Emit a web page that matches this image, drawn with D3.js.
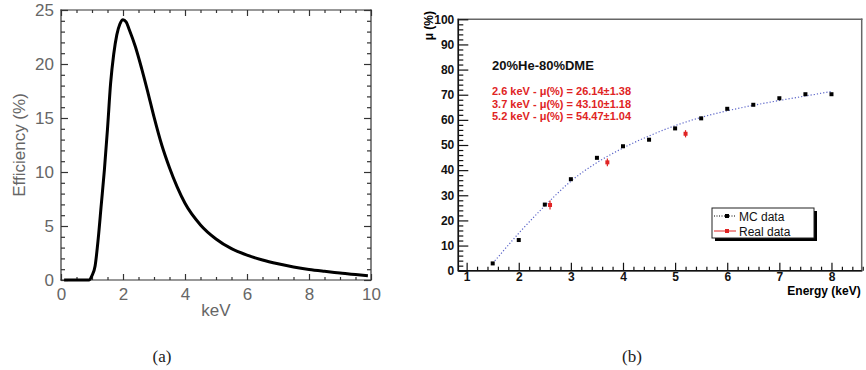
<!DOCTYPE html>
<html>
<head>
<meta charset="utf-8">
<script src="https://cdn.jsdelivr.net/npm/d3@7"></script>
<style>
  html, body { margin: 0; padding: 0; background: #fff; }
  svg { display: block; }
  .axis path.domain { display: none; }
  .left-axis text { font-family: "Liberation Sans", Arial, sans-serif; font-size: 17px; fill: #666; }
  .left-axis line { stroke: #333; stroke-width: 1.2px; }
  .right-axis text { font-family: "Liberation Sans", Arial, sans-serif; font-size: 12px; font-weight: bold; fill: #111; }
  .right-axis line { stroke: #111; stroke-width: 1.2px; }
</style>
</head>
<body>
<div id="chart"></div>
<script>
// (a) detection efficiency vs energy
const effEnergy = [0.1, 0.5, 0.9, 1.0, 1.1, 1.2, 1.3, 1.4, 1.5, 1.6, 1.7, 1.8, 1.9, 2.0, 2.1, 2.2, 2.4, 2.6, 2.8, 3.0, 3.25, 3.5, 3.75, 4.0, 4.5, 5.0, 5.5, 6.0, 6.5, 7.0, 7.5, 8.0, 8.5, 9.0, 9.5, 9.9];
const effValue = [0, 0, 0, 0.4, 1.3, 3.8, 7.0, 10.2, 14.0, 18.2, 20.9, 22.7, 23.7, 24.1, 23.9, 23.2, 21.6, 19.6, 17.4, 15.1, 12.5, 10.4, 8.6, 7.1, 5.1, 3.8, 2.9, 2.3, 1.85, 1.5, 1.2, 0.97, 0.8, 0.65, 0.5, 0.4];
const effXTicks = [0, 2, 4, 6, 8, 10];
const effYTicks = [0, 5, 10, 15, 20, 25];

// (b) modulation factor vs energy
const mcEnergy = [1.5, 2, 2.5, 3, 3.5, 4, 4.5, 5, 5.5, 6, 6.5, 7, 7.5, 8];
const mcMu = [2.9, 12.2, 26.3, 36.4, 44.9, 49.5, 52.1, 56.6, 60.6, 64.4, 66.0, 68.6, 70.2, 70.2];
const fitEnergy = [1.5, 2, 2.5, 3, 3.5, 4, 4.5, 5, 5.5, 6, 6.5, 7, 7.5, 8];
const fitMu = [2.9, 14.9, 25.8, 35.6, 43.0, 48.8, 53.6, 57.7, 61.0, 63.6, 65.8, 67.7, 69.5, 71.3];
const realEnergy = [2.6, 3.7, 5.2];
const realMu = [26.14, 43.10, 54.47];
const realErr = [1.38, 1.18, 1.04];
const muXTicks = [1, 2, 3, 4, 5, 6, 7, 8];
const muYTicks = [0, 10, 20, 30, 40, 50, 60, 70, 80, 90, 100];

const width = 866, height = 370;
const svg = d3.select("#chart").append("svg")
  .attr("width", width).attr("height", height)
  .attr("viewBox", `0 0 ${width} ${height}`);

function frameLines(g, x0, x1, y0, y1, color, sw) {
  g.selectAll(null)
    .data([[x0, y0, x1, y0], [x1, y0, x1, y1], [x0, y1, x1, y1], [x0, y0, x0, y1]])
    .join("line")
    .attr("x1", (d) => d[0]).attr("y1", (d) => d[1])
    .attr("x2", (d) => d[2]).attr("y2", (d) => d[3])
    .attr("stroke", color).attr("stroke-width", sw)
    .attr("stroke-linecap", "square");
}

// ---------- panel (a)
const xA = d3.scaleLinear().domain([0, 10]).range([61, 371]);
const yA = d3.scaleLinear().domain([0, 25]).range([280, 10]);
const gA = svg.append("g");

const minorXA = d3.range(0, 10.01, 0.5).filter((d) => !effXTicks.includes(d));
const minorYA = d3.range(0, 25.01, 1).filter((d) => !effYTicks.includes(d));

function axisPair(g, axisFn, scale, major, minor, majorLen, minorLen, pad, withLabels) {
  g.append("g").attr("class", "axis")
    .call(axisFn(scale).tickValues(major).tickSize(majorLen).tickPadding(pad)
      .tickFormat(withLabels ? d3.format("d") : ""));
  g.append("g").attr("class", "axis")
    .call(axisFn(scale).tickValues(minor).tickSize(minorLen).tickFormat(""));
}

const axA = gA.append("g").attr("class", "left-axis");
axisPair(axA.append("g").attr("transform", `translate(0,${yA(0)})`), d3.axisBottom, xA, effXTicks, minorXA, -6, -3, 8, true);
axisPair(axA.append("g").attr("transform", `translate(0,${yA(25)})`), d3.axisTop, xA, effXTicks, minorXA, -6, -3, 8, false);
axisPair(axA.append("g").attr("transform", `translate(${xA(0)},0)`), d3.axisLeft, yA, effYTicks, minorYA, -7, -4, 7, true);
axisPair(axA.append("g").attr("transform", `translate(${xA(10)},0)`), d3.axisRight, yA, effYTicks, minorYA, -7, -4, 7, false);

frameLines(gA.append("g"), xA(0), xA(10), yA(25), yA(0), "#333", 1.2);

gA.append("path")
  .datum(effEnergy.map((d, i) => [d, effValue[i]]))
  .attr("fill", "none").attr("stroke", "#000").attr("stroke-width", 3)
  .attr("stroke-linejoin", "round")
  .attr("d", d3.line().x((d) => xA(d[0])).y((d) => yA(d[1])).curve(d3.curveMonotoneX));

gA.append("text")
  .attr("x", (xA(0) + xA(10)) / 2).attr("y", 316)
  .attr("text-anchor", "middle")
  .attr("font-family", "Liberation Sans, Arial, sans-serif").attr("font-size", 17).attr("fill", "#666")
  .text("keV");
gA.append("text")
  .attr("transform", `translate(25,${(yA(0) + yA(25)) / 2}) rotate(-90)`)
  .attr("text-anchor", "middle")
  .attr("font-family", "Liberation Sans, Arial, sans-serif").attr("font-size", 17).attr("fill", "#666")
  .text("Efficiency (%)");

// ---------- panel (b)
const xB = d3.scaleLinear().domain([0.84, 8.58]).range([458.3, 861.7]);
const yB = d3.scaleLinear().domain([0, 100]).range([270.7, 19.3]);
const gB = svg.append("g");

frameLines(gB.append("g"), xB.range()[0], xB.range()[1], yB(100), yB(0), "#666", 1.5);

const minorXB = d3.range(1, 8.61, 0.2).map((d) => +d.toFixed(1)).filter((d) => !muXTicks.includes(d));
const minorYB = d3.range(0, 100.1, 2).filter((d) => !muYTicks.includes(d));

const axB = gB.append("g").attr("class", "right-axis");
const gxB = axB.append("g").attr("transform", `translate(0,${yB(0)})`);
gxB.append("g").attr("class", "axis")
  .call(d3.axisBottom(xB).tickValues(muXTicks).tickSize(-8).tickPadding(2).tickFormat(d3.format("d")));
gxB.append("g").attr("class", "axis")
  .call(d3.axisBottom(xB).tickValues(minorXB).tickSize(-4).tickFormat(""));
const gyB = axB.append("g").attr("transform", `translate(${xB.range()[0]},0)`);
gyB.append("g").attr("class", "axis")
  .call(d3.axisLeft(yB).tickValues(muYTicks).tickSize(-10).tickPadding(4).tickFormat(d3.format("d")));
gyB.append("g").attr("class", "axis")
  .call(d3.axisLeft(yB).tickValues(minorYB).tickSize(-5).tickFormat(""));

// black axis lines on left and bottom
gB.append("line").attr("x1", xB.range()[0]).attr("x2", xB.range()[1])
  .attr("y1", yB(0)).attr("y2", yB(0)).attr("stroke", "#111").attr("stroke-width", 1.5);
gB.append("line").attr("x1", xB.range()[0]).attr("x2", xB.range()[0])
  .attr("y1", yB(0)).attr("y2", yB(100)).attr("stroke", "#111").attr("stroke-width", 1.5);

// fit line
gB.append("path")
  .datum(fitEnergy.map((d, i) => [d, fitMu[i]]))
  .attr("fill", "none").attr("stroke", "#5a64c8").attr("stroke-width", 1.2)
  .attr("stroke-dasharray", "1.2,2")
  .attr("d", d3.line().x((d) => xB(d[0])).y((d) => yB(d[1])).curve(d3.curveMonotoneX));

// MC points
gB.append("g").selectAll("rect")
  .data(mcEnergy.map((d, i) => [d, mcMu[i]]))
  .join("rect")
  .attr("x", (d) => xB(d[0]) - 2).attr("y", (d) => yB(d[1]) - 2)
  .attr("width", 4).attr("height", 4).attr("fill", "#000");

// real data with error bars
const real = realEnergy.map((d, i) => ({ e: d, mu: realMu[i], err: realErr[i] }));
const gReal = gB.append("g").selectAll("g").data(real).join("g");
gReal.append("line")
  .attr("x1", (d) => xB(d.e)).attr("x2", (d) => xB(d.e))
  .attr("y1", (d) => yB(d.mu - d.err) + 1).attr("y2", (d) => yB(d.mu + d.err) - 1)
  .attr("stroke", "#e02424").attr("stroke-width", 1.2);
gReal.append("rect")
  .attr("x", (d) => xB(d.e) - 2).attr("y", (d) => yB(d.mu) - 2)
  .attr("width", 4).attr("height", 4).attr("fill", "#e02424");

// labels
gB.append("text")
  .attr("x", xB.range()[1] - 1).attr("y", 295)
  .attr("text-anchor", "end")
  .attr("font-family", "Liberation Sans, Arial, sans-serif").attr("font-size", 12).attr("font-weight", "bold")
  .text("Energy (keV)");
gB.append("text")
  .attr("transform", `translate(433,11) rotate(-90)`)
  .attr("text-anchor", "end")
  .attr("font-family", "Liberation Sans, Arial, sans-serif").attr("font-size", 12).attr("font-weight", "bold")
  .text("μ (%)");

gB.append("text")
  .attr("x", 492).attr("y", 70)
  .attr("font-family", "Liberation Sans, Arial, sans-serif").attr("font-size", 13).attr("font-weight", "bold")
  .attr("fill", "#111")
  .text("20%He-80%DME");

gB.append("g").selectAll("text")
  .data(real)
  .join("text")
  .attr("x", 492).attr("y", (d, i) => 95 + i * 12.5)
  .attr("font-family", "Liberation Sans, Arial, sans-serif").attr("font-size", 11).attr("font-weight", "bold")
  .attr("fill", "#e02424")
  .text((d) => `${d.e} keV - μ(%) = ${d.mu.toFixed(2)}±${d.err.toFixed(2)}`);

// legend
const lg = gB.append("g").attr("transform", "translate(712,208)");
lg.append("rect").attr("x", 3).attr("y", 3).attr("width", 102).attr("height", 30).attr("fill", "#000");
lg.append("rect").attr("width", 102).attr("height", 30).attr("fill", "#fff").attr("stroke", "#222");
const legendItems = [
  { label: "MC data", color: "#000", dash: "1,1.5" },
  { label: "Real data", color: "#e02424", dash: null },
];
const li = lg.selectAll(".item").data(legendItems).join("g")
  .attr("class", "item")
  .attr("transform", (d, i) => `translate(0,${8 + i * 15})`);
li.append("line").attr("x1", 2).attr("x2", 24).attr("y1", 0).attr("y2", 0)
  .attr("stroke", (d) => d.color).attr("stroke-width", 1)
  .attr("stroke-dasharray", (d) => d.dash);
li.append("rect").attr("x", 13).attr("y", -2).attr("width", 4).attr("height", 4)
  .attr("fill", (d) => d.color);
li.append("text").attr("x", 27).attr("y", 4.5)
  .attr("font-family", "Liberation Sans, Arial, sans-serif").attr("font-size", 12)
  .attr("fill", "#111")
  .text((d) => d.label);

// captions
svg.selectAll(".caption")
  .data(["(a)", "(b)"])
  .join("text")
  .attr("class", "caption")
  .attr("x", (d, i) => (i ? 632 : 162)).attr("y", 362)
  .attr("text-anchor", "middle")
  .attr("font-family", "Liberation Serif, DejaVu Serif, serif").attr("font-size", 17)
  .attr("fill", "#222")
  .text((d) => d);
</script>
</body>
</html>
